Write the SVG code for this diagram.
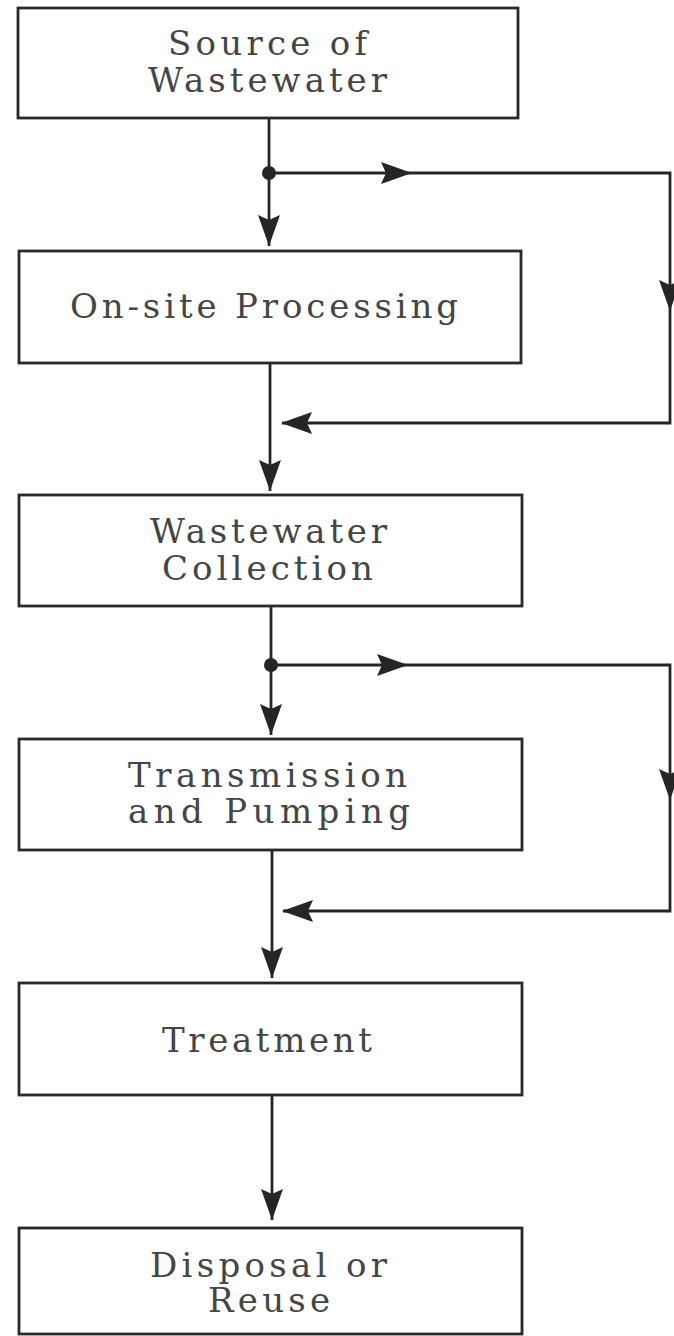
<svg xmlns="http://www.w3.org/2000/svg" xmlns:xlink="http://www.w3.org/1999/xlink" width="674" height="1336" viewBox="0 0 674 1336">
<style>
.box{fill:#fff;stroke:#2a2a2a;stroke-width:2.8}
.ln{fill:none;stroke:#252525;stroke-width:2.8}
.t{font-family:"DejaVu Serif","Liberation Serif",serif;font-size:34px;fill:#454545}
.ah{fill:#252525}
</style>
<defs>
<path id="ahd" d="M0,0 L-11,-31 L0,-26 L11,-31 Z"/>
</defs>
<rect width="674" height="1336" fill="#fff"/>
<g id="connectors">
<path class="ln" d="M269,118 V246"/>
<path class="ln" d="M269,173 H670 V423 H282"/>
<path class="ln" d="M270,363 V491"/>
<path class="ln" d="M271,606 V735"/>
<path class="ln" d="M271,665 H670 V911 H283"/>
<path class="ln" d="M272,850 V978"/>
<path class="ln" d="M272,1095 V1220"/>
<circle cx="269" cy="173" r="7" class="ah"/>
<circle cx="271" cy="665" r="7" class="ah"/>
<use xlink:href="#ahd" class="ah" transform="translate(269,246)"/>
<use xlink:href="#ahd" class="ah" transform="translate(412,173) rotate(-90)"/>
<use xlink:href="#ahd" class="ah" transform="translate(670,311)"/>
<use xlink:href="#ahd" class="ah" transform="translate(281,423) rotate(90)"/>
<use xlink:href="#ahd" class="ah" transform="translate(270,491)"/>
<use xlink:href="#ahd" class="ah" transform="translate(271,735)"/>
<use xlink:href="#ahd" class="ah" transform="translate(408,665) rotate(-90)"/>
<use xlink:href="#ahd" class="ah" transform="translate(670,800)"/>
<use xlink:href="#ahd" class="ah" transform="translate(282,911) rotate(90)"/>
<use xlink:href="#ahd" class="ah" transform="translate(272,978)"/>
<use xlink:href="#ahd" class="ah" transform="translate(272,1220)"/>
</g>
<g id="source">
<rect class="box" x="18" y="8" width="500" height="110"/>
<text class="t" x="168" y="55" textLength="199">Source of</text>
<text class="t" x="148" y="92" textLength="239">Wastewater</text>
</g>
<g id="onsite">
<rect class="box" x="19" y="251" width="502" height="112"/>
<text class="t" x="70" y="318" textLength="388">On-site Processing</text>
</g>
<g id="collection">
<rect class="box" x="19" y="495" width="503" height="111"/>
<text class="t" x="150" y="543" textLength="237">Wastewater</text>
<text class="t" x="162" y="580" textLength="211">Collection</text>
</g>
<g id="transmission">
<rect class="box" x="19" y="739" width="503" height="111"/>
<text class="t" x="128" y="787" textLength="279">Transmission</text>
<text class="t" x="128" y="823" textLength="282">and Pumping</text>
</g>
<g id="treatment">
<rect class="box" x="19" y="983" width="503" height="112"/>
<text class="t" x="162" y="1052" textLength="210">Treatment</text>
</g>
<g id="disposal">
<rect class="box" x="19" y="1228" width="503" height="106"/>
<text class="t" x="150" y="1277" textLength="237">Disposal or</text>
<text class="t" x="208" y="1312" textLength="122">Reuse</text>
</g>
</svg>
